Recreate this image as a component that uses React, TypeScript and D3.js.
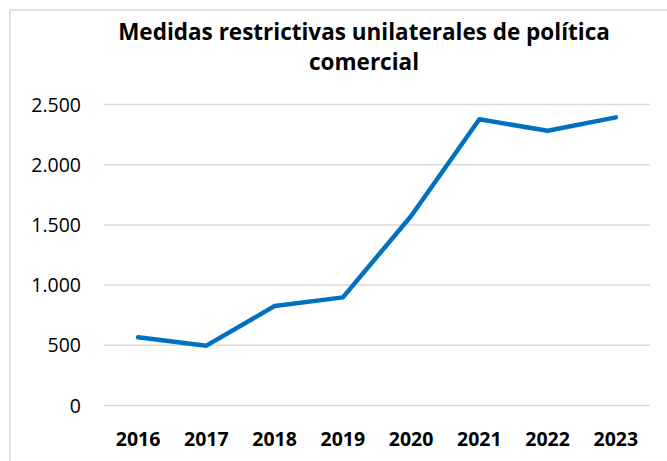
import React from "react";
import * as d3 from "d3";

const years = ["2016", "2017", "2018", "2019", "2020", "2021", "2022", "2023"];
const values = [566, 497, 826, 898, 1574, 2377, 2282, 2393];
const yTicks = [0, 500, 1000, 1500, 2000, 2500];
const titleLines = ["Medidas restrictivas unilaterales de política", "comercial"];

const W = 667;
const H = 461;

export default function App() {
  const x = d3.scalePoint<string>().domain(years).range([104, 650]).padding(0.5);
  const y = d3.scaleLinear().domain([0, 2500]).range([405.5, 104.5]);
  const line = d3
    .line<number>()
    .x((_, i) => x(years[i]) as number)
    .y((d) => y(d));
  const fmt = (v: number) => d3.format(",")(v).replace(/,/g, ".");
  const font = "'Open Sans', 'Noto Sans', sans-serif";

  return (
    <svg
      width={W}
      height={H}
      style={{ position: "absolute", left: 0, top: 0, background: "#fff" }}
    >
      <rect x={0} y={0} width={W} height={H} fill="#fff" />
      <rect x={10} y={10} width={700} height={500} fill="none" stroke="#d9d9d9" strokeWidth={1.5} />
      {titleLines.map((t, i) => (
        <text
          key={i}
          x={364}
          y={40 + i * 30}
          textAnchor="middle"
          fontFamily={font}
          fontWeight="bold"
          fontSize={22.5}
          fill="#000"
        >
          {t}
        </text>
      ))}
      {yTicks.map((t) => (
        <g key={t}>
          <line x1={104} x2={650} y1={y(t)} y2={y(t)} stroke="#d9d9d9" strokeWidth={1.5} />
          <text
            x={81}
            y={y(t) + 7}
            textAnchor="end"
            fontFamily={font}
            fontSize={19.5}
            fill="#000"
          >
            {fmt(t)}
          </text>
        </g>
      ))}
      {years.map((yr) => (
        <text
          key={yr}
          x={x(yr) as number}
          y={446}
          textAnchor="middle"
          fontFamily={font}
          fontWeight="bold"
          fontSize={19.5}
          fill="#000"
        >
          {yr}
        </text>
      ))}
      <path
        d={line(values) || ""}
        fill="none"
        stroke="#0070C0"
        strokeWidth={4.5}
        strokeLinejoin="round"
        strokeLinecap="round"
      />
    </svg>
  );
}
